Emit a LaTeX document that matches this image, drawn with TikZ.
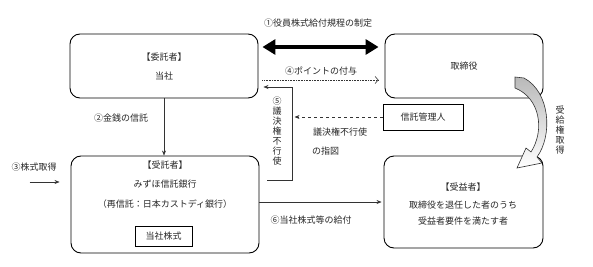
\documentclass[tikz,border=0pt]{standalone}
\usepackage{fontspec}
\setmainfont{Noto Sans CJK JP}
\usetikzlibrary{arrows.meta,calc}

\begin{document}
\begin{tikzpicture}[x=1pt, y=-1pt,
        every node/.style={font=\fontsize{9}{10}\selectfont, text=black!85, inner sep=0pt},
        box/.style={draw, line width=0.9pt, rounded corners=10pt},
        plainbox/.style={draw, line width=0.9pt},
        conn/.style={draw=black!80, line width=0.6pt}]
        \useasboundingbox (0,0) rectangle (593,267);
        % boxes
        \node[box, minimum width=188pt, minimum height=64pt] (itaku) at (164,66) {};
        \node (itakuA) at (164,57) {【委託者】};
        \node (itakuB) at (164,76) {当社};
        \node[box, minimum width=158pt, minimum height=64pt] (torishimari) at (464,66) {取締役};
        \node[plainbox, minimum width=80pt, minimum height=26pt] (kanri) at (423,117) {信託管理人};
        \node[box, minimum width=188pt, minimum height=97pt] (jutaku) at (165,204.5) {};
        \node (jutakuA) at (165,165) {【受託者】};
        \node (jutakuB) at (165,184) {みずほ信託銀行};
        \node (jutakuC) at (165,204) {（再信託：日本カストディ銀行）};
        \node[plainbox, minimum width=57pt, minimum height=20pt] (kabu) at (163.5,236) {当社株式};
        \node[box, minimum width=159pt, minimum height=92pt] (jueki) at (463.5,202) {};
        \node (juekiA) at (463,187) {【受益者】};
        \node (juekiB) at (463,205) {取締役を退任した者のうち};
        \node (juekiC) at (463,221) {受益者要件を満たす者};
        % labels
        \node (l1) at (318,23) {①役員株式給付規程の制定};
        \node (l4) at (321,71) {④ポイントの付与};
        \node (l2) at (121,118) {②金銭の信託};
        \node (l3) at (34,167) {③株式取得};
        \node (l6) at (311,220) {⑥当社株式等の給付};
        \node (l5a) at (340,132) {議決権不行使};
        \node[anchor=west] (l5b) at (312,151) {の指図};
        \node[align=center] (l5) at (277,131) {⑤\\議\\決\\権\\不\\行\\使};
        \node[align=center] (ljk) at (560,130) {受\\給\\権\\取\\得};
        % connectors
        \draw[line width=4.5pt, {Triangle[length=13pt,width=15pt]}-{Triangle[length=13pt,width=15pt]}]
            ($(itaku.east)+(4,-19)$) -- ($(torishimari.west)+(-6,-19)$);
        \draw[conn, densely dotted, -{Straight Barb[length=3pt,width=7pt]}]
            ($(itaku.east)+(4,14)$) -- ($(torishimari.west)+(-6,14)$);
        \draw[conn, -{Stealth[length=5pt,width=4pt]}]
            ($(jutaku.east)+(8,-24.5)$) -- ++(25,0) |- ($(itaku.east)+(5,21)$);
        \coordinate (kanriEnd) at ($(kanri.west)+(-88,0)$);
        \draw[conn, dashed, -{Stealth[length=5pt,width=4pt]}] (kanri.west) -- (kanriEnd);
        \draw[conn, -{Stealth[length=5pt,width=4pt]}] (itaku.south) -- (itaku.south |- jutaku.north);
        \coordinate (kabuIn) at ($(jutaku.west)+(-41,-22.5)$);
        \draw[conn, -{Stealth[length=5pt,width=4pt]}] (kabuIn) -- ($(jutaku.west)+(-11,-22.5)$);
        \draw[conn, -{Stealth[length=5pt,width=4pt]}] ($(jutaku.east)+(0,-2.5)$) -- ($(jueki.west)+(-2,0)$);
        % curved arrow
        \path[draw=black!80, line width=0.6pt, top color=gray!55, bottom color=white]
            (515,77) -- (524,78) .. controls (550,92) and (553,135) .. (537,157)
            -- (542,163) -- (517,168) -- (526,148) -- (531,152)
            .. controls (545,130) and (540,98) .. (515,88) -- cycle;
\end{tikzpicture}
\end{document}
